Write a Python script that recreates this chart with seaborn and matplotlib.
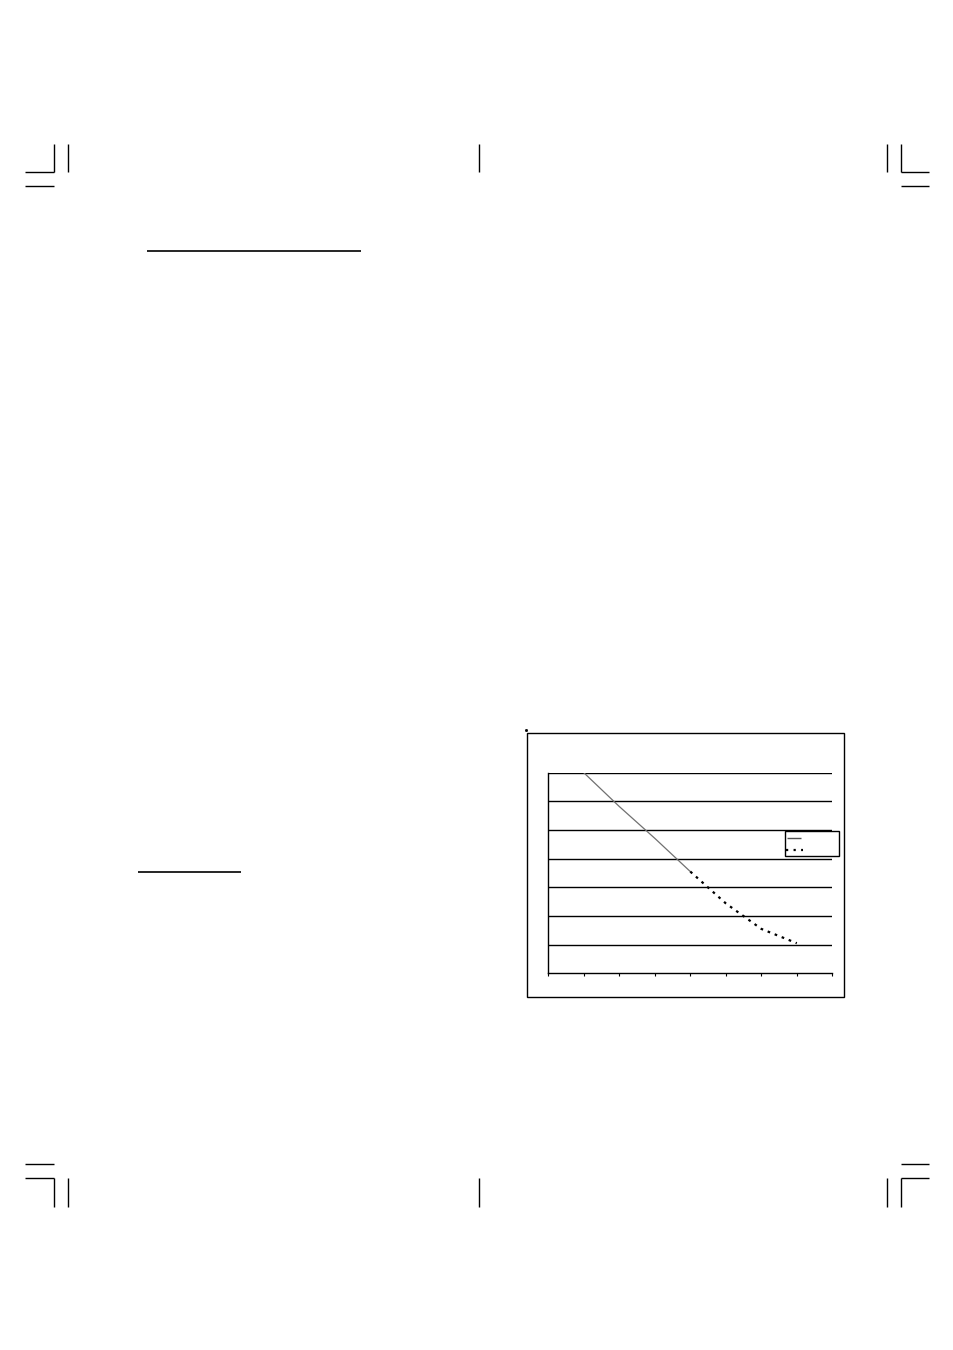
import numpy as np
import pandas as pd
import seaborn as sns
import matplotlib.pyplot as plt
from matplotlib.lines import Line2D
from matplotlib.patches import Rectangle

# chart values (category index -> value)
solid_x = [1, 2, 3, 4]
solid_y = [7.0, 5.82, 4.71, 3.55]
dotted_x = [4, 5, 6, 7]
dotted_y = [3.55, 2.44, 1.55, 1.05]
x_ticks = [0, 1, 2, 3, 4, 5, 6, 7, 8]
y_grid = [1, 2, 3, 4, 5, 6, 7]

W, H = 954, 1350
DOTS = (0, (1.2, 2.2))

sns.set_theme(style="white")
plt.rcParams['font.family'] = ['DejaVu Sans']

fig = plt.figure(figsize=(W / 100, H / 100), dpi=100)
fig.patch.set_facecolor("white")


def fx(x):
    return x / W


def fy(y):
    return 1 - y / H


def page_line(x0, y0, x1, y1, lw=1.0, color="black", ls="-"):
    ln = Line2D([fx(x0), fx(x1)], [fy(y0), fy(y1)], transform=fig.transFigure,
                color=color, lw=lw, linestyle=ls, solid_capstyle="butt")
    fig.add_artist(ln)
    return ln


# crop marks - top
page_line(54.3, 144, 54.3, 172.3)
page_line(68.3, 144, 68.3, 172)
page_line(25, 172.3, 54.3, 172.3)
page_line(25, 186.3, 54, 186.3)
page_line(479, 144, 479, 172)
page_line(886.7, 144, 886.7, 172)
page_line(900.7, 144, 900.7, 172.3)
page_line(900.7, 172.3, 929, 172.3)
page_line(900.7, 186.3, 929, 186.3)
# crop marks - bottom
page_line(25, 1164.3, 54, 1164.3)
page_line(25, 1178.3, 54.3, 1178.3)
page_line(54.3, 1178.3, 54.3, 1207)
page_line(68.3, 1178.3, 68.3, 1207)
page_line(479, 1178.3, 479, 1207)
page_line(900.7, 1164.3, 929, 1164.3)
page_line(900.7, 1178.3, 929, 1178.3)
page_line(900.7, 1178.3, 900.7, 1207)
page_line(886.7, 1178.3, 886.7, 1207)

# underlines in the page text
page_line(147, 251, 361, 251, lw=1.2)
page_line(137.7, 872.3, 240.7, 872.3, lw=1.2)

# chart frame
fig.add_artist(Rectangle((fx(527), fy(997)), fx(844) - fx(527), fy(733) - fy(997),
                         transform=fig.transFigure, fill=False, edgecolor="black", lw=1.0))
fig.add_artist(Line2D([fx(526)], [fy(730)], transform=fig.transFigure, marker="s",
                      markersize=1.0, color="black", lw=0))

ax = fig.add_axes([fx(548.3), fy(973.3), fx(832.3) - fx(548.3), fy(772.7) - fy(973.3)])
ax.set_facecolor("white")

df_solid = pd.DataFrame({"x": solid_x, "y": solid_y})
df_dotted = pd.DataFrame({"x": dotted_x, "y": dotted_y})

for g in y_grid:
    ax.axhline(g, color="black", lw=1.0, zorder=1)

sns.lineplot(data=df_solid, x="x", y="y", ax=ax, color="#707070", lw=0.9, zorder=3)
sns.lineplot(data=df_dotted, x="x", y="y", ax=ax, color="black", lw=1.6,
             linestyle=DOTS, zorder=3)

ax.set_xlim(0, 8)
ax.set_ylim(0, 7)
ax.set_xticks(x_ticks)
ax.set_xticklabels([])
ax.set_yticks([])
ax.set_xlabel("")
ax.set_ylabel("")
ax.tick_params(axis="x", direction="out", length=2.5, width=0.8, color="black", bottom=True)
for side in ["top", "right"]:
    ax.spines[side].set_visible(False)
for side in ["left", "bottom"]:
    ax.spines[side].set_color("black")
    ax.spines[side].set_linewidth(1.0)

# legend box (no label text in the source)
fig.add_artist(Rectangle((fx(785), fy(855.5)), fx(839) - fx(785), fy(831) - fy(855.5),
                         transform=fig.transFigure, facecolor="white", edgecolor="black",
                         lw=1.0, zorder=5))
key1 = page_line(787, 838.3, 801, 838.3, lw=1.0, color="#505050")
key2 = page_line(786.5, 850.3, 803, 850.3, lw=1.6, ls=(0, (1, 2.4)))
key1.set_zorder(6)
key2.set_zorder(6)

fig.savefig("out.png", dpi=100)
